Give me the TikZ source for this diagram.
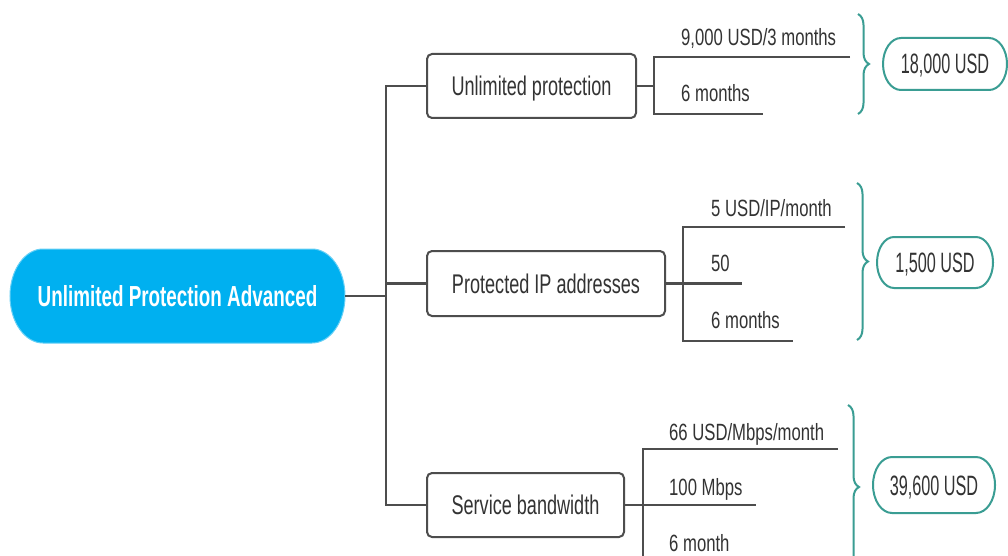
\documentclass[tikz,border=0pt]{standalone}
\usepackage{fontspec}
\setmainfont{Liberation Sans}
\newfontfamily\boxfont[FakeStretch=0.67]{Liberation Sans}
\newfontfamily\leaffont[FakeStretch=0.71]{Liberation Sans}
\newfontfamily\sumfont[FakeStretch=0.58]{Liberation Sans}
\newfontfamily\rootfont[FakeStretch=0.65]{Liberation Sans}
\usetikzlibrary{calc,backgrounds,decorations.pathreplacing}

\definecolor{rootblue}{RGB}{0,176,240}
\definecolor{inkgray}{RGB}{77,77,77}
\definecolor{txtgray}{RGB}{51,51,51}
\definecolor{sumteal}{RGB}{58,157,147}

% pill outline with elliptical ends, fitted to a node's box
\newcommand\pillshape[3]{%
  \path[#3] let \p1=(#1.north west), \p2=(#1.south east), \n1={(\y1-\y2)/2} in
    (\x1+#2pt,\y1) -- (\x2-#2pt,\y1)
    arc[start angle=90, end angle=-90, x radius=#2pt, y radius=\n1*1pt]
    -- (\x1+#2pt,\y2)
    arc[start angle=270, end angle=90, x radius=#2pt, y radius=\n1*1pt] -- cycle;}

\begin{document}
\begin{tikzpicture}[x=1pt, y=-1pt,
  conn/.style={draw=inkgray, line width=2.2pt},
  topic/.style={draw=inkgray, line width=2pt, rounded corners=5pt, fill=white,
    inner sep=0pt, outer sep=0pt, text=txtgray,
    font={\boxfont\fontsize{27pt}{30pt}\selectfont}, text height=19.3pt, text depth=0pt},
  leaf/.style={anchor=base west, inner sep=0pt, text=txtgray,
    font={\leaffont\fontsize{23.5pt}{26pt}\selectfont}},
  total/.style={inner sep=0pt, outer sep=0pt, text=txtgray,
    font={\sumfont\fontsize{28pt}{30pt}\selectfont}, text height=20pt, text depth=0pt},
  rootnode/.style={inner sep=0pt, outer sep=0pt, text=white,
    font={\rootfont\bfseries\fontsize{29pt}{32pt}\selectfont}, text height=21pt, text depth=0pt},
  brc/.style={draw=sumteal, line width=2pt, decorate, decoration={brace, amplitude=11pt}}]

\useasboundingbox (0,0) rectangle (1008,556);

% central topic
\node[rootnode, minimum width=335pt, minimum height=94pt] (root) at (177.5,296)
  {Unlimited Protection Advanced};

% main branches
\node[topic, minimum width=209pt, minimum height=64pt] (b1) at (531.5,86) {Unlimited protection};
\node[topic, minimum width=238pt, minimum height=65pt] (b2) at (546,283.5) {Protected IP addresses};
\node[topic, minimum width=197pt, minimum height=64pt] (b3) at (525.5,505) {Service bandwidth};

% totals
\node[total, minimum width=124pt, minimum height=52pt] (s1) at (945,64) {18,000 USD};
\node[total, minimum width=116pt, minimum height=51pt] (s2) at (935,262.5) {1,500 USD};
\node[total, minimum width=122pt, minimum height=56pt] (s3) at (934,485) {39,600 USD};

\begin{pgfonlayer}{background}
  \fill[white] (0,0) rectangle (1008,556);
  \pillshape{root}{33}{fill=rootblue, draw=rootblue!60, line width=1pt}
  \pillshape{s1}{18}{draw=sumteal, line width=2pt, fill=white}
  \pillshape{s2}{17}{draw=sumteal, line width=2pt, fill=white}
  \pillshape{s3}{19}{draw=sumteal, line width=2pt, fill=white}
\end{pgfonlayer}

% trunk from the central topic
\coordinate (hub) at (386,296);
\draw[conn] (root.east) -- (hub);
\draw[conn] (b1.west) -| (hub);
\draw[conn] (b2.west) -| (hub);
\draw[conn] (b3.west) -| (hub);

% details: unlimited protection
\coordinate (j1) at (654,86);
\coordinate (e11) at (850,57);
\coordinate (e12) at (763,114);
\draw[conn] (b1.east) -- (j1);
\draw[conn] (e11) -| (j1) |- (e12);
\node[leaf] (t11) at (681,46) {9,000 USD/3 months};
\node[leaf] (t12) at (681,102) {6 months};

% details: protected IP addresses
\coordinate (j2) at (683,283.5);
\coordinate (e21) at (845,227);
\coordinate (e22) at (742,283.5);
\coordinate (e23) at (793,341);
\draw[conn] (b2.east) -- (e22);
\draw[conn] (e21) -| (j2) |- (e23);
\node[leaf] (t21) at (711,216.5) {5 USD/IP/month};
\node[leaf] (t22) at (711,271.5) {50};
\node[leaf] (t23) at (711,328) {6 months};

% details: service bandwidth
\coordinate (j3) at (643,505);
\coordinate (e31) at (838,449);
\coordinate (e32) at (756,505);
\coordinate (e33) at (745,561);
\draw[conn] (b3.east) -- (e32);
\draw[conn] (e31) -| (j3) |- (e33);
\node[leaf] (t31) at (669,440) {66 USD/Mbps/month};
\node[leaf] (t32) at (669,495) {100 Mbps};
\node[leaf] (t33) at (669,551.5) {6 month};

% braces gathering each group
\coordinate (g1a) at (858,14);  \coordinate (g1b) at (858,114);
\coordinate (g2a) at (857,183); \coordinate (g2b) at (857,340);
\coordinate (g3a) at (848,405); \coordinate (g3b) at (848,569);
\draw[brc] (g1a) -- (g1b);
\draw[brc] (g2a) -- (g2b);
\draw[brc] (g3a) -- (g3b);

\end{tikzpicture}
\end{document}
